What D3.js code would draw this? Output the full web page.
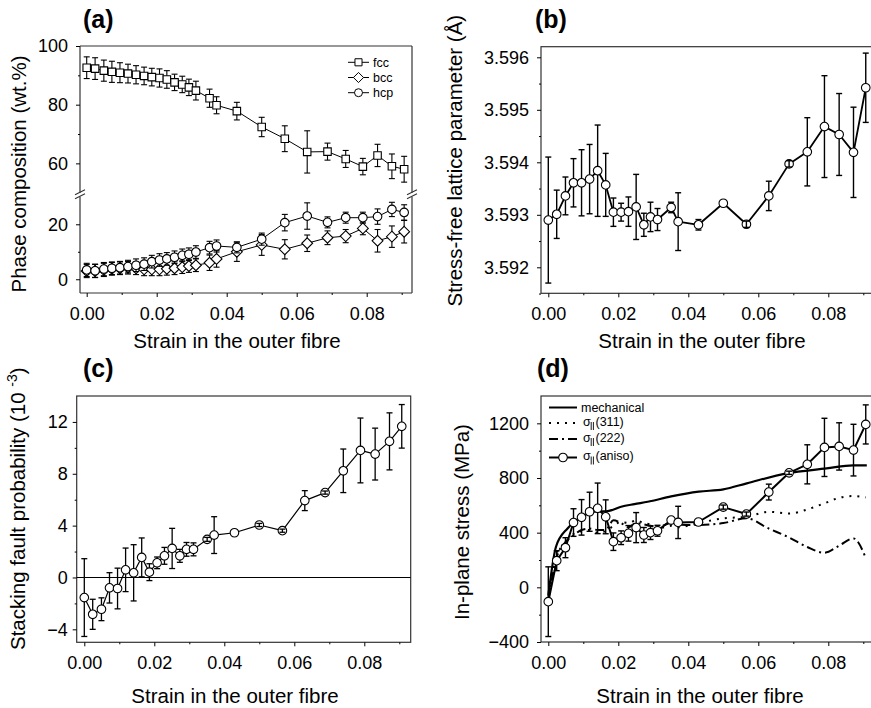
<!DOCTYPE html>
<html><head><meta charset="utf-8">
<script src="https://cdn.jsdelivr.net/npm/d3@7"></script>
<style>body{margin:0;background:#fff} text{-webkit-font-smoothing:antialiased}</style>
</head><body>
<script>
// ---------------- DATA ----------------
const strain = [0, 0.0024, 0.0049, 0.0072, 0.0095, 0.0118, 0.0141, 0.0164, 0.0186, 0.0208, 0.0229, 0.0251, 0.0273, 0.0292, 0.0312, 0.0351, 0.0371, 0.0429, 0.0500, 0.0566, 0.0630, 0.0688, 0.0740, 0.0789, 0.0831, 0.0872, 0.0907];

const fcc    = [92.6, 92.3, 91.6, 91.2, 90.9, 90.6, 90.2, 89.8, 89.4, 89.1, 88.6, 87.6, 86.9, 85.9, 84.8, 82.2, 79.8, 77.8, 72.4, 68.4, 63.9, 64.0, 61.5, 58.9, 62.7, 59.0, 58.0];
const fccErr = [3.7, 3.7, 3.6, 3.6, 3.4, 3.2, 3.1, 3.0, 3.0, 3.1, 3.0, 2.8, 2.8, 2.8, 3.2, 3.1, 2.9, 3.0, 3.3, 4.4, 7.2, 2.9, 2.9, 2.8, 3.8, 4.2, 4.4];
const bcc    = [3.0, 3.0, 3.4, 3.8, 4.0, 4.2, 4.0, 3.6, 3.6, 3.6, 3.8, 4.0, 4.4, 4.8, 5.1, 6.0, 7.4, 10.0, 12.5, 10.9, 13.1, 15.1, 15.7, 18.5, 14.0, 15.5, 17.3];
const bccErr = [2.4, 2.4, 2.4, 2.3, 2.3, 2.3, 2.3, 2.3, 2.3, 2.3, 2.3, 2.3, 2.3, 2.3, 2.3, 2.8, 3.0, 3.5, 3.8, 3.5, 3.0, 2.5, 2.4, 2.3, 4.1, 3.9, 4.1];
const hcp    = [3.4, 3.1, 3.7, 4.0, 4.2, 4.6, 5.1, 5.5, 6.4, 7.0, 7.4, 8.0, 8.7, 9.1, 9.9, 11.5, 12.1, 11.6, 14.6, 20.6, 23.0, 20.7, 22.4, 22.4, 22.8, 25.4, 24.3];
const hcpErr = [2.4, 2.4, 2.4, 2.3, 2.3, 2.3, 2.3, 2.3, 2.3, 2.3, 2.3, 2.3, 2.3, 2.3, 2.3, 2.3, 2.2, 2.0, 2.2, 3.0, 4.8, 2.0, 2.0, 2.0, 2.8, 2.6, 2.8];

const lattice    = [3.59290, 3.59301, 3.59336, 3.59361, 3.59361, 3.59368, 3.59384, 3.59357, 3.59305, 3.59305, 3.59306, 3.59315, 3.59281, 3.59296, 3.59291, 3.59314, 3.59287, 3.59281, 3.59322, 3.59282, 3.59336, 3.59397, 3.59420, 3.59468, 3.59453, 3.59419, 3.59542];
const latticeErr = [0.0012, 0.00046, 0.00036, 0.00046, 0.00063, 0.00066, 0.00087, 0.0006, 0.00027, 0.00017, 0.00028, 0.00062, 0.00022, 0.00028, 0.00021, 0.0001, 0.00055, 0.0001, 0, 0.00006, 0.00028, 0.00006, 0.00065, 0.00097, 0.00078, 0.00086, 0.00066];

const sfp    = [-1.55, -2.84, -2.45, -0.80, -0.85, 0.59, 0.36, 1.55, 0.41, 1.13, 1.67, 2.24, 1.67, 2.17, 2.17, 2.94, 3.27, 3.45, 4.05, 3.61, 5.93, 6.55, 8.23, 9.80, 9.52, 10.50, 11.66];
const sfpErr = [3.0, 1.16, 0.88, 1.17, 1.57, 1.68, 2.17, 1.5, 0.65, 0.45, 0.65, 1.55, 0.5, 0.53, 0.5, 0.15, 1.42, 0, 0.12, 0.12, 0.77, 0.12, 1.68, 2.5, 2.0, 2.2, 1.68];

const aniso    = [-105, 195, 290, 474, 512, 553, 578, 516, 334, 363, 395, 437, 383, 400, 414, 492, 475, 478, 587, 536, 697, 838, 900, 1024, 1031, 1004, 1192];
const anisoErr = [255, 73, 73, 101, 130, 143, 185, 124, 64, 50, 57, 110, 55, 50, 40, 0, 118, 0, 15, 15, 58, 12, 143, 213, 173, 189, 143];
const s311     = [-90, 250, 330, 390, 410, 420, 400, 410, 450, 480, 470, 490, 470, 460, 430, 450, 440, 470, 505, 516, 553, 540, 570, 615, 655, 668, 658];
const s222     = [-90, 220, 330, 380, 420, 430, 420, 420, 490, 470, 440, 470, 460, 450, 440, 470, 460, 456, 470, 505, 430, 365, 295, 253, 305, 358, 215];
const mechStrain = [0, 0.0022, 0.0055, 0.0074, 0.0103, 0.0131, 0.0170, 0.0208, 0.0246, 0.0284, 0.0351, 0.0430, 0.0500, 0.0567, 0.0681, 0.0795, 0.0871, 0.0910];
const mech       = [-60, 297, 431, 480, 529, 553, 558, 590, 609, 626, 665, 700, 717, 761, 834, 870, 893, 893];

const xTicksMajor = [0, 0.02, 0.04, 0.06, 0.08];
const xTicksMinor = [0.01, 0.03, 0.05, 0.07, 0.09];
const xTickLabels = ["0.00", "0.02", "0.04", "0.06", "0.08"];

const aUpperTicks = [60, 80, 100], aUpperMinor = [70, 90];
const aLowerTicks = [0, 20], aLowerMinor = [10];
const bTicks = [3.592, 3.593, 3.594, 3.595, 3.596], bMinor = [3.5915, 3.5925, 3.5935, 3.5945, 3.5955];
const bTickLabels = ["3.592", "3.593", "3.594", "3.595", "3.596"];
const cTicks = [-4, 0, 4, 8, 12], cMinor = [-2, 2, 6, 10];
const dTicks = [-400, 0, 400, 800, 1200], dMinor = [-200, 200, 600, 1000];

const legendA = ["fcc", "bcc", "hcp"];
const legendD = ["mechanical", "(311)", "(222)", "(aniso)"];

// ---------------- DRAWING ----------------
const FONT = '"Liberation Sans", Arial, Helvetica, sans-serif';
const svg = d3.select("body").append("svg").attr("width", 871).attr("height", 708)
  .style("font-family", FONT);
const BOX = "#333";
const DIAMOND = d3.symbolDiamond2 || d3.symbolDiamond;

function styleAxis(a, fs) {
  a.select(".domain").remove();
  a.selectAll("line").attr("stroke", "#000").attr("stroke-width", 1);
  a.selectAll("text").attr("font-size", fs).attr("font-family", FONT).attr("fill", "#000");
}
function xAxis(x, yPos) {
  svg.append("g").attr("transform", `translate(0,${yPos})`)
    .call(d3.axisBottom(x).tickValues(xTicksMajor).tickFormat((d, i) => xTickLabels[i]).tickSize(4).tickPadding(10).tickSizeOuter(0))
    .call(a => styleAxis(a, 18));
  svg.append("g").attr("transform", `translate(0,${yPos})`)
    .call(d3.axisBottom(x).tickValues(xTicksMinor).tickFormat("").tickSize(2).tickSizeOuter(0))
    .call(a => styleAxis(a, 18));
}
function yAxis(y, xPos, major, minor, fmt, pad) {
  svg.append("g").attr("transform", `translate(${xPos},0)`)
    .call(d3.axisLeft(y).tickValues(major).tickFormat(fmt).tickSize(4).tickPadding(pad).tickSizeOuter(0))
    .call(a => styleAxis(a, 18));
  svg.append("g").attr("transform", `translate(${xPos},0)`)
    .call(d3.axisLeft(y).tickValues(minor).tickFormat("").tickSize(2).tickSizeOuter(0))
    .call(a => styleAxis(a, 18));
}
function box(l, r, t, b) {
  svg.append("rect").attr("x", l).attr("y", t).attr("width", r - l).attr("height", b - t)
    .attr("fill", "none").attr("stroke", BOX).attr("stroke-width", 1.2);
}
function title(txt, x, y) {
  svg.append("text").attr("x", x).attr("y", y).attr("font-size", 25).attr("font-weight", "bold").attr("fill", "#000").text(txt);
}
function xLabel(cx, y) {
  svg.append("text").attr("x", cx).attr("y", y).attr("text-anchor", "middle").attr("font-size", 20.5).attr("fill", "#000")
    .text("Strain in the outer fibre");
}
function yLabel(x, yStart, build) {
  const t = svg.append("text").attr("transform", `translate(${x},${yStart}) rotate(-90)`)
    .attr("text-anchor", "start").attr("font-size", 20.5).attr("fill", "#000");
  build(t);
}
function seriesLine(g, x, y, xs, vs, width, dash) {
  const line = d3.line().x((d, i) => x(xs[i])).y(d => y(d));
  g.append("path").datum(vs).attr("d", line).attr("fill", "none").attr("stroke", "#000")
    .attr("stroke-width", width).attr("stroke-dasharray", dash || null).attr("stroke-linejoin", "round");
}
function errBars(g, x, y, xs, vs, es, sel, w) {
  const idx = d3.range(vs.length).filter(i => es[i] > 0 && sel(i));
  const eg = g.append("g").attr("stroke", "#000").attr("stroke-width", w || 1.2);
  const items = eg.selectAll("g").data(idx).join("g");
  items.append("line").attr("x1", i => x(xs[i])).attr("x2", i => x(xs[i]))
    .attr("y1", i => y(vs[i] - es[i])).attr("y2", i => y(vs[i] + es[i]));
  items.append("line").attr("x1", i => x(xs[i]) - 3).attr("x2", i => x(xs[i]) + 3)
    .attr("y1", i => y(vs[i] - es[i])).attr("y2", i => y(vs[i] - es[i]));
  items.append("line").attr("x1", i => x(xs[i]) - 3).attr("x2", i => x(xs[i]) + 3)
    .attr("y1", i => y(vs[i] + es[i])).attr("y2", i => y(vs[i] + es[i]));
}
function markers(g, x, y, xs, vs, shape, size, sw) {
  const sym = d3.symbol().type(shape).size(size);
  g.append("g").selectAll("path").data(vs).join("path")
    .attr("transform", (d, i) => `translate(${x(xs[i])},${y(d)})`)
    .attr("d", sym).attr("fill", "#fff").attr("stroke", "#000").attr("stroke-width", sw || 1.1);
}
function pointSeries(x, y, xs, vs, es, opt) {
  const g = svg.append("g");
  if (opt.line) seriesLine(g, x, y, xs, vs, opt.line);
  const R = opt.r || 4.3;
  const small = i => Math.abs(y(vs[i] - es[i]) - y(vs[i] + es[i])) / 2 < R;
  errBars(g, x, y, xs, vs, es, i => !small(i), opt.ew);
  markers(g, x, y, xs, vs, opt.shape, opt.size, opt.msw);
  errBars(g, x, y, xs, vs, es, small, opt.ew);
  return g;
}
const CIRC = 58;

// ============ PANEL (a) ============
{
  const L = 80, R = 412, T = 46, B = 293;
  const x = d3.scaleLinear().domain([(L - 86.7) / 3500, (R - 86.7) / 3500]).range([L, R]);
  const yU = d3.scaleLinear().domain([50, 100]).range([192.7, T]);
  const yL = d3.scaleLinear().domain([-5, 30]).range([B, 196.8]);
  const fr = svg.append("g").attr("stroke", BOX).attr("stroke-width", 1.2).attr("fill", "none");
  fr.append("line").attr("x1", L).attr("x2", R).attr("y1", T).attr("y2", T);
  fr.append("line").attr("x1", L).attr("x2", R).attr("y1", B).attr("y2", B);
  [L, R].forEach(xx => {
    fr.append("line").attr("x1", xx).attr("x2", xx).attr("y1", T).attr("y2", yU(50));
    fr.append("line").attr("x1", xx).attr("x2", xx).attr("y1", yL(30)).attr("y2", B);
    fr.append("line").attr("x1", xx - 5).attr("x2", xx + 5).attr("y1", yU(50) + 2).attr("y2", yU(50) - 3);
    fr.append("line").attr("x1", xx - 5).attr("x2", xx + 5).attr("y1", yL(30) + 2).attr("y2", yL(30) - 3);
  });
  xAxis(x, B);
  yAxis(yU, L, aUpperTicks, aUpperMinor, d3.format("d"), 8);
  yAxis(yL, L, aLowerTicks, aLowerMinor, d3.format("d"), 8);
  pointSeries(x, yL, strain, bcc, bccErr, { line: 1, shape: DIAMOND, size: 75, ew: 1.1 });
  pointSeries(x, yL, strain, hcp, hcpErr, { line: 1, shape: d3.symbolCircle, size: CIRC, ew: 1.1 });
  pointSeries(x, yU, strain, fcc, fccErr, { line: 1, shape: d3.symbolSquare, size: 56, ew: 1.1 });
  const shapes = [d3.symbolSquare, DIAMOND, d3.symbolCircle];
  const sizes = [50, 65, 50];
  const lg = svg.append("g");
  legendA.forEach((name, i) => {
    const yy = 62.3 + i * 15.2;
    lg.append("line").attr("x1", 348).attr("x2", 369).attr("y1", yy).attr("y2", yy).attr("stroke", "#000").attr("stroke-width", 1);
    lg.append("path").attr("d", d3.symbol().type(shapes[i]).size(sizes[i])).attr("transform", `translate(358.5,${yy})`)
      .attr("fill", "#fff").attr("stroke", "#000").attr("stroke-width", 1);
    lg.append("text").attr("x", 373).attr("y", yy).attr("dy", "0.36em").attr("font-size", 12.5).attr("fill", "#000").text(name);
  });
  title("(a)", 83, 28);
  xLabel(237, 348);
  yLabel(26, 292.5, t => t.text("Phase composition (wt.%)"));
}

// ============ PANEL (b) ============
{
  const L = 541, R = 873, T = 46.7, B = 293.3;
  const x = d3.scaleLinear().domain([(L - 548.3) / 3500, (R - 548.3) / 3500]).range([L, R]);
  const y = d3.scaleLinear().domain([3.591505, 3.596202]).range([B, T]);
  box(L, R, T, B);
  xAxis(x, B);
  yAxis(y, L, bTicks, bMinor, (d, i) => bTickLabels[i], 8);
  pointSeries(x, y, strain, lattice, latticeErr, { line: 1.8, shape: d3.symbolCircle, size: CIRC, ew: 1.4 });
  title("(b)", 535, 28);
  xLabel(702, 348);
  yLabel(462, 306.5, t => t.text("Stress-free lattice parameter (Å)"));
}

// ============ PANEL (c) ============
{
  const L = 76.7, R = 410.7, T = 396, B = 642.3;
  const x = d3.scaleLinear().domain([(L - 84.3) / 3500, (R - 84.3) / 3500]).range([L, R]);
  const y = d3.scaleLinear().domain([-5, 14]).range([B, T]);
  box(L, R, T, B);
  svg.append("line").attr("x1", L).attr("x2", R).attr("y1", y(0)).attr("y2", y(0)).attr("stroke", "#000").attr("stroke-width", 1.2);
  xAxis(x, B);
  yAxis(y, L, cTicks, cMinor, d3.format("d"), 5);
  pointSeries(x, y, strain, sfp, sfpErr, { line: 1.2, shape: d3.symbolCircle, size: CIRC, ew: 1.3 });
  title("(c)", 83, 377);
  xLabel(235, 703);
  yLabel(25, 650, t => {
    t.append("tspan").text("Stacking fault probability (10 ");
    t.append("tspan").attr("font-size", 14).attr("dy", -8).text("-3");
    t.append("tspan").attr("dy", 8).text(")");
  });
}

// ============ PANEL (d) ============
{
  const L = 541, R = 873, T = 396, B = 642;
  const x = d3.scaleLinear().domain([(L - 548.3) / 3500, (R - 548.3) / 3500]).range([L, R]);
  const y = d3.scaleLinear().domain([-400, 1400]).range([B, T]);
  box(L, R, T, B);
  xAxis(x, B);
  yAxis(y, L, dTicks, dMinor, d3.format("d"), 8);
  const g = svg.append("g");
  const curve = d3.line().x(d => x(d[0])).y(d => y(d[1])).curve(d3.curveMonotoneX);
  g.append("path").datum(strain.map((s, i) => [s, s311[i]])).attr("d", curve).attr("fill", "none")
    .attr("stroke", "#000").attr("stroke-width", 2).attr("stroke-dasharray", "2,6");
  g.append("path").datum(strain.map((s, i) => [s, s222[i]])).attr("d", curve).attr("fill", "none")
    .attr("stroke", "#000").attr("stroke-width", 2).attr("stroke-dasharray", "9,4,2,4");
  g.append("path").datum(mechStrain.map((s, i) => [s, mech[i]])).attr("d", curve).attr("fill", "none")
    .attr("stroke", "#000").attr("stroke-width", 2.2);
  pointSeries(x, y, strain, aniso, anisoErr, { line: 2, shape: d3.symbolCircle, size: CIRC, ew: 1.4 });

  const lg = svg.append("g");
  const rows = [407.5, 423, 439, 457.5];
  const dashes = [null, "2,6", "9,4,2,4", null];
  rows.forEach((yy, i) => {
    lg.append("line").attr("x1", 549).attr("x2", 577).attr("y1", yy).attr("y2", yy)
      .attr("stroke", "#000").attr("stroke-width", 2).attr("stroke-dasharray", dashes[i]);
  });
  lg.append("path").attr("d", d3.symbol().type(d3.symbolCircle).size(CIRC)).attr("transform", `translate(563,${rows[3]})`)
    .attr("fill", "#fff").attr("stroke", "#000").attr("stroke-width", 1.1);
  lg.append("text").attr("x", 581).attr("y", rows[0]).attr("dy", "0.36em").attr("font-size", 12.5).attr("fill", "#000").text(legendD[0]);
  legendD.slice(1).forEach((s, i) => {
    const yy = rows[i + 1] - 2;
    const t = lg.append("text").attr("x", 583).attr("y", yy).attr("dy", "0.36em").attr("font-size", 12.5).attr("fill", "#000");
    t.append("tspan").text("σ");
    lg.append("line").attr("x1", 591.2).attr("x2", 591.2).attr("y1", yy + 1).attr("y2", yy + 9).attr("stroke", "#000").attr("stroke-width", 0.9);
    lg.append("line").attr("x1", 593.4).attr("x2", 593.4).attr("y1", yy + 1).attr("y2", yy + 9).attr("stroke", "#000").attr("stroke-width", 0.9);
    lg.append("text").attr("x", 595.5).attr("y", yy).attr("dy", "0.36em").attr("font-size", 12.5).attr("fill", "#000").text(s);
  });
  title("(d)", 537, 377);
  xLabel(700, 703);
  yLabel(469, 620, t => t.text("In-plane stress (MPa)"));
}
</script>
</body></html>
